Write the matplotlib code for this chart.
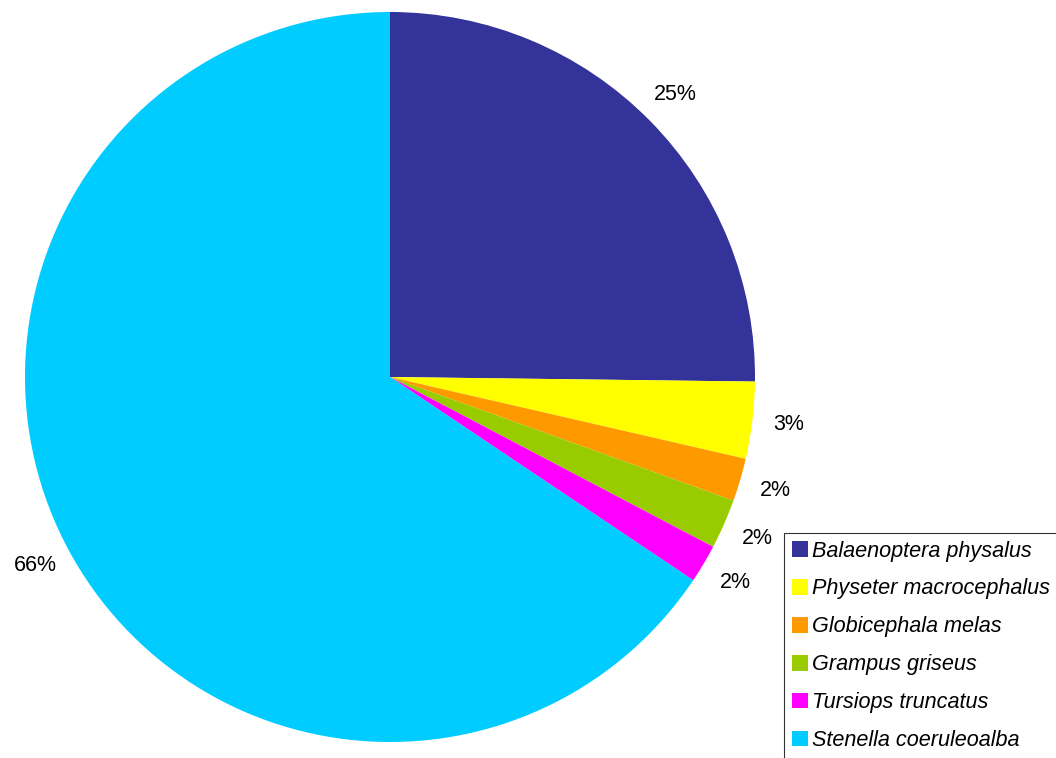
import matplotlib.pyplot as plt

# species and their share of sightings (%)
species = ["Balaenoptera physalus", "Physeter macrocephalus", "Globicephala melas",
           "Grampus griseus", "Tursiops truncatus", "Stenella coeruleoalba"]
shares = [25.2, 3.4, 1.9, 2.2, 1.7, 65.6]
colors = ["#333399", "#FFFF00", "#FF9900", "#99CC00", "#FF00FF", "#00CCFF"]

plt.rcParams['font.family'] = ['Liberation Sans', 'DejaVu Sans']

fig = plt.figure(figsize=(10.56, 7.58), dpi=100)
ax = fig.add_axes([0, 0, 1, 1])

wedges, texts, autotexts = ax.pie(
    shares, colors=colors, startangle=90, counterclock=False,
    center=(390, 381), radius=365, frame=True,
    autopct=lambda p: f"{p:.0f}%", pctdistance=1.1,
    textprops={'fontsize': 15.5, 'color': 'black'},
    wedgeprops={'linewidth': 0})

ax.set_xlim(0, 1056)
ax.set_ylim(0, 758)
ax.axis('off')

leg = fig.legend(wedges, species, loc='upper left',
                 bbox_to_anchor=(784 / 1056, 1 - 533 / 758),
                 borderaxespad=0, borderpad=0.35, fancybox=False,
                 handlelength=0.74, handleheight=0.74, handletextpad=0.22,
                 labelspacing=0.78,
                 prop={'family': 'Liberation Sans', 'style': 'italic', 'size': 15.6})
leg.get_frame().set_edgecolor('black')
leg.get_frame().set_linewidth(0.8)

fig.savefig("out.png", dpi=100)
